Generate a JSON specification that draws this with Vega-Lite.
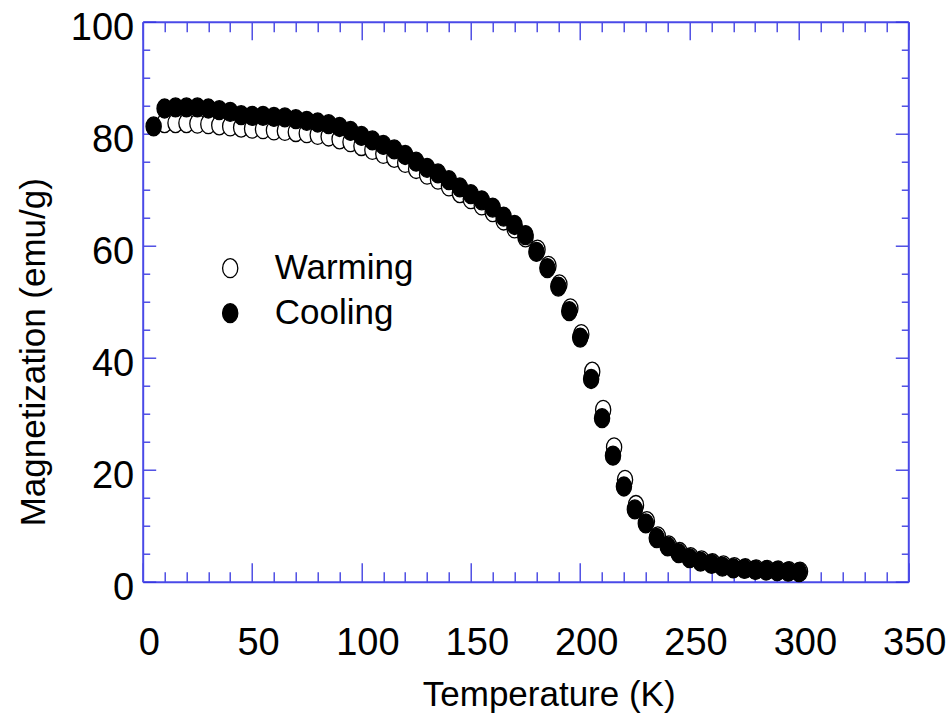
{
  "$schema": "https://vega.github.io/schema/vega-lite/v6.json",
  "autosize": {"type": "none"},
  "padding": {"left": 142.7, "top": 21.7, "right": 43.7, "bottom": 141.3},
  "width": 765.6,
  "height": 560,
  "background": "white",
  "config": {
    "view": {"stroke": null},
    "font": "Liberation Sans",
    "axis": {
      "labelFont": "Liberation Sans",
      "titleFont": "Liberation Sans",
      "labelColor": "black",
      "titleColor": "black",
      "labelFontWeight": "normal",
      "titleFontWeight": "normal",
      "grid": false,
      "domainColor": "#4a4ae8",
      "domainWidth": 2,
      "tickColor": "#3535e0",
      "tickWidth": 1.3
    },
    "legend": {
      "labelFont": "Liberation Sans"
    }
  },
  "data": {
    "values": [
      {"Temperature": 10, "Magnetization": 81.9, "Series": "Warming"},
      {"Temperature": 15, "Magnetization": 81.9, "Series": "Warming"},
      {"Temperature": 20, "Magnetization": 81.9, "Series": "Warming"},
      {"Temperature": 25, "Magnetization": 81.8, "Series": "Warming"},
      {"Temperature": 30, "Magnetization": 81.7, "Series": "Warming"},
      {"Temperature": 35, "Magnetization": 81.5, "Series": "Warming"},
      {"Temperature": 40, "Magnetization": 81.3, "Series": "Warming"},
      {"Temperature": 45, "Magnetization": 81.1, "Series": "Warming"},
      {"Temperature": 50, "Magnetization": 80.9, "Series": "Warming"},
      {"Temperature": 55, "Magnetization": 80.8, "Series": "Warming"},
      {"Temperature": 60, "Magnetization": 80.6, "Series": "Warming"},
      {"Temperature": 65, "Magnetization": 80.5, "Series": "Warming"},
      {"Temperature": 70, "Magnetization": 80.3, "Series": "Warming"},
      {"Temperature": 75, "Magnetization": 80.1, "Series": "Warming"},
      {"Temperature": 80, "Magnetization": 79.8, "Series": "Warming"},
      {"Temperature": 85, "Magnetization": 79.5, "Series": "Warming"},
      {"Temperature": 90, "Magnetization": 79.0, "Series": "Warming"},
      {"Temperature": 95, "Magnetization": 78.5, "Series": "Warming"},
      {"Temperature": 100, "Magnetization": 77.8, "Series": "Warming"},
      {"Temperature": 105, "Magnetization": 77.1, "Series": "Warming"},
      {"Temperature": 110, "Magnetization": 76.4, "Series": "Warming"},
      {"Temperature": 115, "Magnetization": 75.7, "Series": "Warming"},
      {"Temperature": 120, "Magnetization": 74.8, "Series": "Warming"},
      {"Temperature": 125, "Magnetization": 73.7, "Series": "Warming"},
      {"Temperature": 130, "Magnetization": 72.7, "Series": "Warming"},
      {"Temperature": 135, "Magnetization": 71.8, "Series": "Warming"},
      {"Temperature": 140, "Magnetization": 70.6, "Series": "Warming"},
      {"Temperature": 145, "Magnetization": 69.4, "Series": "Warming"},
      {"Temperature": 150, "Magnetization": 68.3, "Series": "Warming"},
      {"Temperature": 155, "Magnetization": 67.2, "Series": "Warming"},
      {"Temperature": 160, "Magnetization": 66.0, "Series": "Warming"},
      {"Temperature": 165, "Magnetization": 64.5, "Series": "Warming"},
      {"Temperature": 170, "Magnetization": 63.1, "Series": "Warming"},
      {"Temperature": 175, "Magnetization": 61.5, "Series": "Warming"},
      {"Temperature": 180.5, "Magnetization": 59.3, "Series": "Warming"},
      {"Temperature": 185.5, "Magnetization": 56.4, "Series": "Warming"},
      {"Temperature": 190.5, "Magnetization": 53.1, "Series": "Warming"},
      {"Temperature": 195.5, "Magnetization": 48.8, "Series": "Warming"},
      {"Temperature": 200.5, "Magnetization": 44.2, "Series": "Warming"},
      {"Temperature": 205.5, "Magnetization": 37.5, "Series": "Warming"},
      {"Temperature": 210.5, "Magnetization": 30.7, "Series": "Warming"},
      {"Temperature": 215.5, "Magnetization": 24.0, "Series": "Warming"},
      {"Temperature": 220.5, "Magnetization": 18.2, "Series": "Warming"},
      {"Temperature": 225.5, "Magnetization": 13.7, "Series": "Warming"},
      {"Temperature": 230.5, "Magnetization": 10.8, "Series": "Warming"},
      {"Temperature": 235.5, "Magnetization": 8.1, "Series": "Warming"},
      {"Temperature": 240.5, "Magnetization": 6.5, "Series": "Warming"},
      {"Temperature": 245.5, "Magnetization": 5.3, "Series": "Warming"},
      {"Temperature": 250.5, "Magnetization": 4.4, "Series": "Warming"},
      {"Temperature": 255.5, "Magnetization": 3.8, "Series": "Warming"},
      {"Temperature": 260.5, "Magnetization": 3.3, "Series": "Warming"},
      {"Temperature": 265.5, "Magnetization": 2.9, "Series": "Warming"},
      {"Temperature": 270.5, "Magnetization": 2.6, "Series": "Warming"},
      {"Temperature": 275.5, "Magnetization": 2.4, "Series": "Warming"},
      {"Temperature": 280.5, "Magnetization": 2.2, "Series": "Warming"},
      {"Temperature": 285.5, "Magnetization": 2.1, "Series": "Warming"},
      {"Temperature": 290.5, "Magnetization": 2.0, "Series": "Warming"},
      {"Temperature": 295.5, "Magnetization": 1.9, "Series": "Warming"},
      {"Temperature": 300.5, "Magnetization": 1.8, "Series": "Warming"},
      {"Temperature": 5, "Magnetization": 81.3, "Series": "Cooling"},
      {"Temperature": 10, "Magnetization": 84.5, "Series": "Cooling"},
      {"Temperature": 15, "Magnetization": 84.7, "Series": "Cooling"},
      {"Temperature": 20, "Magnetization": 84.7, "Series": "Cooling"},
      {"Temperature": 25, "Magnetization": 84.7, "Series": "Cooling"},
      {"Temperature": 30, "Magnetization": 84.5, "Series": "Cooling"},
      {"Temperature": 35, "Magnetization": 84.2, "Series": "Cooling"},
      {"Temperature": 40, "Magnetization": 83.9, "Series": "Cooling"},
      {"Temperature": 45, "Magnetization": 83.3, "Series": "Cooling"},
      {"Temperature": 50, "Magnetization": 83.2, "Series": "Cooling"},
      {"Temperature": 55, "Magnetization": 83.2, "Series": "Cooling"},
      {"Temperature": 60, "Magnetization": 83.0, "Series": "Cooling"},
      {"Temperature": 65, "Magnetization": 82.9, "Series": "Cooling"},
      {"Temperature": 70, "Magnetization": 82.6, "Series": "Cooling"},
      {"Temperature": 75, "Magnetization": 82.3, "Series": "Cooling"},
      {"Temperature": 80, "Magnetization": 82.0, "Series": "Cooling"},
      {"Temperature": 85, "Magnetization": 81.7, "Series": "Cooling"},
      {"Temperature": 90, "Magnetization": 81.2, "Series": "Cooling"},
      {"Temperature": 95, "Magnetization": 80.5, "Series": "Cooling"},
      {"Temperature": 100, "Magnetization": 79.6, "Series": "Cooling"},
      {"Temperature": 105, "Magnetization": 78.8, "Series": "Cooling"},
      {"Temperature": 110, "Magnetization": 78.0, "Series": "Cooling"},
      {"Temperature": 115, "Magnetization": 77.2, "Series": "Cooling"},
      {"Temperature": 120, "Magnetization": 76.2, "Series": "Cooling"},
      {"Temperature": 125, "Magnetization": 75.0, "Series": "Cooling"},
      {"Temperature": 130, "Magnetization": 73.9, "Series": "Cooling"},
      {"Temperature": 135, "Magnetization": 72.9, "Series": "Cooling"},
      {"Temperature": 140, "Magnetization": 71.7, "Series": "Cooling"},
      {"Temperature": 145, "Magnetization": 70.4, "Series": "Cooling"},
      {"Temperature": 150, "Magnetization": 69.2, "Series": "Cooling"},
      {"Temperature": 155, "Magnetization": 68.1, "Series": "Cooling"},
      {"Temperature": 160, "Magnetization": 66.8, "Series": "Cooling"},
      {"Temperature": 165, "Magnetization": 65.2, "Series": "Cooling"},
      {"Temperature": 170, "Magnetization": 63.7, "Series": "Cooling"},
      {"Temperature": 175, "Magnetization": 61.9, "Series": "Cooling"},
      {"Temperature": 180, "Magnetization": 58.9, "Series": "Cooling"},
      {"Temperature": 185, "Magnetization": 56.0, "Series": "Cooling"},
      {"Temperature": 190, "Magnetization": 52.7, "Series": "Cooling"},
      {"Temperature": 195, "Magnetization": 48.3, "Series": "Cooling"},
      {"Temperature": 200, "Magnetization": 43.6, "Series": "Cooling"},
      {"Temperature": 205, "Magnetization": 36.2, "Series": "Cooling"},
      {"Temperature": 210, "Magnetization": 29.2, "Series": "Cooling"},
      {"Temperature": 215, "Magnetization": 22.5, "Series": "Cooling"},
      {"Temperature": 220, "Magnetization": 17.0, "Series": "Cooling"},
      {"Temperature": 225, "Magnetization": 12.9, "Series": "Cooling"},
      {"Temperature": 230, "Magnetization": 10.4, "Series": "Cooling"},
      {"Temperature": 235, "Magnetization": 7.8, "Series": "Cooling"},
      {"Temperature": 240, "Magnetization": 6.3, "Series": "Cooling"},
      {"Temperature": 245, "Magnetization": 5.1, "Series": "Cooling"},
      {"Temperature": 250, "Magnetization": 4.2, "Series": "Cooling"},
      {"Temperature": 255, "Magnetization": 3.6, "Series": "Cooling"},
      {"Temperature": 260, "Magnetization": 3.2, "Series": "Cooling"},
      {"Temperature": 265, "Magnetization": 2.7, "Series": "Cooling"},
      {"Temperature": 270, "Magnetization": 2.4, "Series": "Cooling"},
      {"Temperature": 275, "Magnetization": 2.3, "Series": "Cooling"},
      {"Temperature": 280, "Magnetization": 2.1, "Series": "Cooling"},
      {"Temperature": 285, "Magnetization": 2.0, "Series": "Cooling"},
      {"Temperature": 290, "Magnetization": 1.9, "Series": "Cooling"},
      {"Temperature": 295, "Magnetization": 1.8, "Series": "Cooling"},
      {"Temperature": 300, "Magnetization": 1.7, "Series": "Cooling"}
    ]
  },
  "resolve": {"axis": {"x": "independent", "y": "independent"}},
  "layer": [
    {
      "mark": {
        "type": "point",
        "shape": "M -0.8 0 A 0.8 1 0 1 1 0.8 0 A 0.8 1 0 1 1 -0.8 0 Z",
        "size": 361,
        "filled": true,
        "stroke": "black",
        "strokeWidth": 1.3,
        "opacity": 1
      },
      "encoding": {
        "x": {
          "field": "Temperature",
          "type": "quantitative",
          "scale": {"domain": [0, 350], "nice": false, "zero": false},
          "axis": {
            "orient": "bottom",
            "title": "Temperature (K)",
            "values": [0, 10, 20, 30, 40, 50, 60, 70, 80, 90, 100, 110, 120, 130, 140, 150, 160, 170, 180, 190, 200, 210, 220, 230, 240, 250, 260, 270, 280, 290, 300, 310, 320, 330, 340, 350],
            "labelExpr": "datum.value % 50 === 0 ? datum.label : ''",
            "tickSize": {"condition": {"test": "datum.value % 50 === 0", "value": -19}, "value": -10},
            "labelFontSize": 38,
            "labelPadding": 62,
            "labelOffset": 6,
            "labelFlush": false,
            "labelOverlap": false,
            "titleFontSize": 35,
            "titleX": 406,
            "titleY": 124,
            "titleBaseline": "alphabetic",
            "titleAlign": "center"
          }
        },
        "y": {
          "field": "Magnetization",
          "type": "quantitative",
          "scale": {"domain": [0, 100], "nice": false},
          "axis": {
            "orient": "left",
            "title": "Magnetization (emu/g)",
            "values": [0, 5, 10, 15, 20, 25, 30, 35, 40, 45, 50, 55, 60, 65, 70, 75, 80, 85, 90, 95, 100],
            "labelExpr": "datum.value % 20 === 0 ? datum.label : ''",
            "tickSize": {"condition": {"test": "datum.value % 20 === 0", "value": -13}, "value": -7},
            "labelFontSize": 38,
            "labelPadding": 22,
            "labelOffset": 7,
            "labelFlush": false,
            "labelOverlap": false,
            "titleFontSize": 35,
            "titleAngle": -90,
            "titleX": -98,
            "titleY": 330,
            "titleBaseline": "alphabetic",
            "titleAlign": "center"
          }
        },
        "fill": {
          "field": "Series",
          "type": "nominal",
          "sort": ["Warming", "Cooling"],
          "scale": {"domain": ["Warming", "Cooling"], "range": ["white", "black"]},
          "legend": {
            "title": null,
            "orient": "none",
            "legendX": 70,
            "legendY": 229,
            "padding": 0,
            "symbolType": "M -0.8 0 A 0.8 1 0 1 1 0.8 0 A 0.8 1 0 1 1 -0.8 0 Z",
            "symbolSize": 361,
            "symbolStrokeColor": "black",
            "symbolStrokeWidth": 1.3,
            "symbolOpacity": 1,
            "labelFontSize": 35,
            "labelBaseline": "middle",
            "labelColor": "black",
            "labelOffset": 27,
            "labelLimit": 400,
            "rowPadding": 9
          }
        }
      }
    },
    {
      "mark": {"type": "point", "opacity": 0},
      "encoding": {
        "x": {
          "field": "Temperature",
          "type": "quantitative",
          "axis": {
            "orient": "top",
            "title": null,
            "labels": false,
            "values": [0, 10, 20, 30, 40, 50, 60, 70, 80, 90, 100, 110, 120, 130, 140, 150, 160, 170, 180, 190, 200, 210, 220, 230, 240, 250, 260, 270, 280, 290, 300, 310, 320, 330, 340, 350],
            "tickSize": {"condition": {"test": "datum.value % 50 === 0", "value": -18}, "value": -10}
          }
        },
        "y": {
          "field": "Magnetization",
          "type": "quantitative",
          "axis": {
            "orient": "right",
            "title": null,
            "labels": false,
            "values": [0, 5, 10, 15, 20, 25, 30, 35, 40, 45, 50, 55, 60, 65, 70, 75, 80, 85, 90, 95, 100],
            "tickSize": {"condition": {"test": "datum.value % 20 === 0", "value": -13}, "value": -7}
          }
        }
      }
    }
  ]
}
